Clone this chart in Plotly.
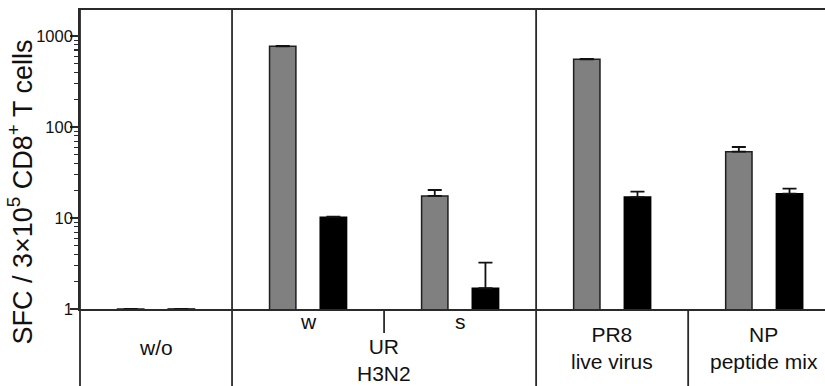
import plotly.graph_objects as go

# ---- data ----
gray_x = [0, 3, 6, 9, 12]
black_x = [1, 4, 7, 10, 13]
gray_vals = [1, 770, 17.5, 555, 53.5]
gray_err = [0, 8, 2.8, 6, 6.8]
black_vals = [1, 10.2, 1.69, 17.0, 18.5]
black_err = [0, 0.15, 1.54, 2.5, 2.5]

tick_vals = [1, 10, 100, 1000]
tick_text = ["1", "10", "100", "1000"]
minor_vals = [m * d for d in (1, 10, 100, 1000) for m in range(2, 10)]

group_labels = ["w/o", "UR<br>H3N2", "PR8<br>live virus", "NP<br>peptide mix"]
sub_labels = ["w", "s"]
sub_x = [3.5, 6.5]

X_RANGE = [-1.0, 13.7]
Y_RANGE = [0, 3.2857]

W, H = 825, 386
ML, MR, MT, MB = 80, 0, 10, 77
PW = W - ML - MR
PH = H - MT - MB

FONT = "Liberation Sans, Arial, sans-serif"
LINE = "#2a2a2a"


def px(xd):
    return (xd - X_RANGE[0]) / (X_RANGE[1] - X_RANGE[0])


def py(pix):
    # pixel y (from top) -> paper y
    return (H - MB - pix) / PH


fig = go.Figure()
fig.add_trace(go.Bar(
    x=gray_x, y=gray_vals, width=0.52,
    marker=dict(color="#808080", line=dict(color="#1e1e1e", width=1.5)),
    error_y=dict(type="data", symmetric=False, array=gray_err,
                 arrayminus=[0] * len(gray_err), color="#111111",
                 thickness=1.8, width=7),
    showlegend=False, hoverinfo="skip",
))
fig.add_trace(go.Bar(
    x=black_x, y=black_vals, width=0.52,
    marker=dict(color="#000000", line=dict(color="#000000", width=1.5)),
    error_y=dict(type="data", symmetric=False, array=black_err,
                 arrayminus=[0] * len(black_err), color="#111111",
                 thickness=1.8, width=7),
    showlegend=False, hoverinfo="skip",
))

shapes = []
bottom = py(H)
# full-height vertical lines
for xd in (X_RANGE[0], 2, 8):
    shapes.append(dict(type="line", xref="paper", yref="paper",
                       x0=px(xd), x1=px(xd), y0=bottom, y1=1,
                       line=dict(color=LINE, width=1.8)))
# lower-only separator between PR8 and NP
shapes.append(dict(type="line", xref="paper", yref="paper",
                   x0=px(11), x1=px(11), y0=bottom, y1=0,
                   line=dict(color=LINE, width=1.8)))
# UR tick
shapes.append(dict(type="line", xref="paper", yref="paper",
                   x0=px(5), x1=px(5), y0=py(333), y1=0,
                   line=dict(color=LINE, width=1.8)))

annotations = []
# y-axis title
annotations.append(dict(
    text="SFC / 3×10<sup>5</sup> CD8<sup>+</sup> T cells",
    xref="paper", yref="paper", x=(21 - ML) / PW, y=py(192.5),
    xanchor="center", yanchor="middle", textangle=-90, showarrow=False,
    font=dict(family=FONT, size=27, color="#111111")))

lab_font = dict(family=FONT, size=21, color="#111111")
annotations.append(dict(text=group_labels[0], xref="x", yref="paper", x=0.5,
                        y=py(347), yanchor="middle", showarrow=False, font=lab_font))
for s, sx in zip(sub_labels, sub_x):
    annotations.append(dict(text=s, xref="x", yref="paper", x=sx, y=py(321),
                            yanchor="middle", showarrow=False, font=lab_font))
annotations.append(dict(text=group_labels[1], xref="x", yref="paper", x=5,
                        y=py(360), yanchor="middle", showarrow=False, font=lab_font))
annotations.append(dict(text=group_labels[2], xref="x", yref="paper", x=9.5,
                        y=py(348), yanchor="middle", showarrow=False, font=lab_font))
annotations.append(dict(text=group_labels[3], xref="x", yref="paper", x=12.5,
                        y=py(348), yanchor="middle", showarrow=False, font=lab_font))

fig.update_layout(
    width=W, height=H,
    margin=dict(l=ML, r=MR, t=MT, b=MB, pad=0),
    paper_bgcolor="white", plot_bgcolor="white",
    bargap=0, barmode="overlay",
    shapes=shapes, annotations=annotations,
    font=dict(family=FONT, color="#111111"),
    xaxis=dict(range=X_RANGE, showgrid=False, zeroline=False,
               showticklabels=False, ticks="", showline=True, mirror=True,
               linecolor=LINE, linewidth=1.8),
    yaxis=dict(type="log", range=Y_RANGE, showgrid=False, zeroline=False,
               tickvals=tick_vals, ticktext=tick_text, ticks="outside",
               ticklen=8, tickwidth=1.5, tickcolor=LINE,
               ticklabelstandoff=-6,
               tickfont=dict(family=FONT, size=16.5, color="#111111"),
               showline=True, linecolor=LINE, linewidth=1.8,
               minor=dict(tickvals=minor_vals, ticks="outside", ticklen=4,
                          tickwidth=1.2, tickcolor=LINE, showgrid=False)),
)

fig.write_html(
    "out.html",
    config={"displayModeBar": False, "staticPlot": True},
    post_script="document.body.style.margin='0';document.body.style.overflow='hidden';",
)
